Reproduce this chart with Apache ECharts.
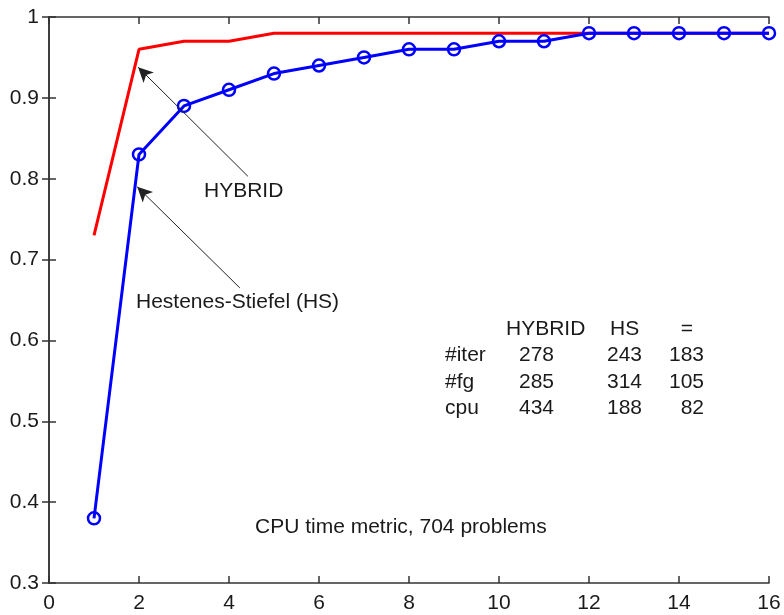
<!DOCTYPE html>
<html>
<head>
<meta charset="utf-8">
<script src="https://cdn.jsdelivr.net/npm/echarts@6/dist/echarts.min.js"></script>
<style>
  html, body { margin: 0; padding: 0; background: #fff; }
  #chart { width: 784px; height: 615px; }
</style>
</head>
<body>
<div id="chart"></div>
<script>
// x positions (performance ratio factor)
const xValues = [1, 2, 3, 4, 5, 6, 7, 8, 9, 10, 11, 12, 13, 14, 15, 16];
// fraction of problems solved
const hybridValues = [0.73, 0.96, 0.97, 0.97, 0.98, 0.98, 0.98, 0.98, 0.98, 0.98, 0.98, 0.98, 0.98, 0.98, 0.98, 0.98];
const hsValues = [0.38, 0.83, 0.89, 0.91, 0.93, 0.94, 0.95, 0.96, 0.96, 0.97, 0.97, 0.98, 0.98, 0.98, 0.98, 0.98];

// summary table
const tableCols = ['HYBRID', 'HS', '='];
const tableRows = ['#iter', '#fg', 'cpu'];
const tableValues = [
  [278, 243, 183],
  [285, 314, 105],
  [434, 188, 82]
];

// arrow annotations: [tail, tip] in data units
const hybridArrow = [[4.42, 0.803], [1.98, 0.938]];
const hsArrow = [[4.24, 0.665], [1.96, 0.79]];

const FONT = '21px "Liberation Sans", Arial, sans-serif';
const TXT = '#1a1a1a';

const chart = echarts.init(document.getElementById('chart'));

const axisLine = { show: true, lineStyle: { color: '#333', width: 1.5 } };
const axisTick = { show: true, inside: true, length: 7, lineStyle: { color: '#333', width: 1.5 } };
const axisLabel = { color: TXT, fontSize: 21, fontFamily: '"Liberation Sans", Arial, sans-serif', margin: 10 };

function text(str, x, y, align) {
  return {
    type: 'text', x: x, y: y, silent: true,
    style: { text: String(str), font: FONT, fill: TXT, align: align || 'left', verticalAlign: 'middle' }
  };
}

const graphics = [
  text('HYBRID', 204, 191),
  text('Hestenes-Stiefel (HS)', 136, 302),
  text('CPU time metric, 704 problems', 255, 527)
];
// table header
const headX = [506, 610, 687];
tableCols.forEach((c, i) => graphics.push(text(c, headX[i], 329, i === 2 ? 'center' : 'left')));
// table rows
const rowY = [355, 382, 408];
const colRight = [554, 642, 704];
tableRows.forEach((r, j) => {
  graphics.push(text(r, 445, rowY[j]));
  tableValues[j].forEach((v, i) => graphics.push(text(v, colRight[i], rowY[j], 'right')));
});

function arrow(pair) {
  return [
    { coord: pair[0], symbol: 'none' },
    { coord: pair[1], symbol: 'arrow' }
  ];
}

chart.setOption({
  animation: false,
  backgroundColor: '#fff',
  grid: { left: 49, right: 15, top: 17, bottom: 32 },
  xAxis: [
    {
      type: 'value', min: 0, max: 16, interval: 2,
      axisLine: axisLine, axisTick: axisTick, axisLabel: axisLabel,
      splitLine: { show: false }
    },
    {
      type: 'value', position: 'top', min: 0, max: 16, interval: 2,
      axisLine: axisLine, axisTick: axisTick, axisLabel: { show: false },
      splitLine: { show: false }
    }
  ],
  yAxis: [
    {
      type: 'value', min: 0.3, max: 1, interval: 0.1,
      axisLine: axisLine, axisTick: axisTick, axisLabel: axisLabel,
      splitLine: { show: false }
    },
    {
      type: 'value', position: 'right', min: 0.3, max: 1, interval: 0.1,
      axisLine: axisLine, axisTick: axisTick, axisLabel: { show: false },
      splitLine: { show: false }
    }
  ],
  series: [
    {
      name: 'HYBRID',
      type: 'line',
      data: xValues.map((x, i) => [x, hybridValues[i]]),
      showSymbol: false,
      lineStyle: { color: '#ff0000', width: 3 },
      itemStyle: { color: '#ff0000' },
      z: 2
    },
    {
      name: 'HS',
      type: 'line',
      data: xValues.map((x, i) => [x, hsValues[i]]),
      symbol: 'circle',
      symbolSize: 12,
      showAllSymbol: true,
      lineStyle: { color: '#0000ff', width: 3 },
      itemStyle: { color: 'rgba(0,0,0,0)', borderColor: '#0000ff', borderWidth: 2.5 },
      z: 3,
      markLine: {
        silent: true,
        symbolSize: [11, 15],
        label: { show: false },
        lineStyle: { color: '#222', width: 1, type: 'solid' },
        itemStyle: { color: '#111' },
        data: [arrow(hybridArrow), arrow(hsArrow)]
      }
    }
  ],
  graphic: graphics
});
</script>
</body>
</html>
